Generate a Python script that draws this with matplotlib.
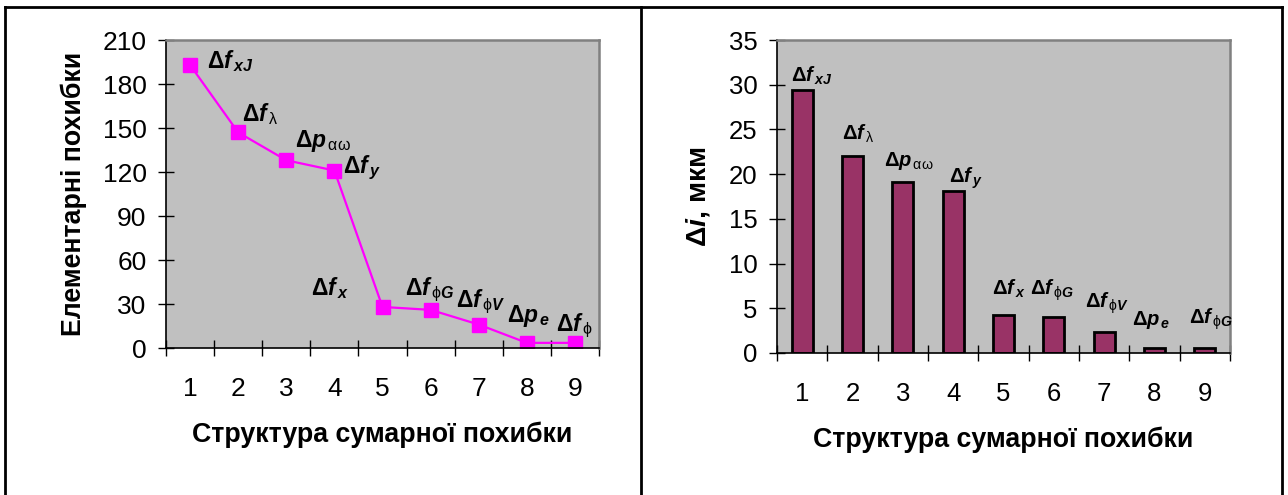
import matplotlib
matplotlib.use('Agg')
import matplotlib.pyplot as plt
from matplotlib.lines import Line2D
from matplotlib.ticker import FixedLocator

plt.rcParams['font.family'] = ['Liberation Sans', 'DejaVu Sans']
plt.rcParams['mathtext.fontset'] = 'custom'
plt.rcParams['mathtext.rm'] = 'Liberation Sans'
plt.rcParams['mathtext.it'] = 'Liberation Sans:italic'
plt.rcParams['mathtext.bf'] = 'Liberation Sans:bold'
plt.rcParams['mathtext.bfit'] = 'Liberation Sans:italic:bold'

# дані
categories = [1, 2, 3, 4, 5, 6, 7, 8, 9]
elem_errors = [193, 147, 128, 121, 28, 26, 16, 3.5, 3.5]
delta_i = [29.4, 22.0, 19.1, 18.15, 4.25, 4.05, 2.4, 0.6, 0.52]

D = r'\mathbf{\Delta}'
left_labels = [
    r'$' + D + r'\mathbfit{f}_{\,\mathbfit{xJ}}$',
    r'$' + D + r'\mathbfit{f}_{\,\mathrm{\lambda}}$',
    r'$' + D + r'\mathbfit{p}_{\,\mathrm{\alpha\omega}}$',
    r'$' + D + r'\mathbfit{f}_{\,\mathbfit{y}}$',
    r'$' + D + r'\mathbfit{f}_{\,\mathbfit{x}}$',
    r'$' + D + r'\mathbfit{f}_{\,\mathrm{\phi}\mathbfit{G}}$',
    r'$' + D + r'\mathbfit{f}_{\,\mathrm{\phi}\mathbfit{V}}$',
    r'$' + D + r'\mathbfit{p}_{\,\mathbfit{e}}$',
    r'$' + D + r'\mathbfit{f}_{\,\mathrm{\phi}}$',
]
left_lab_x = [1.35, 2.08, 3.18, 4.18, 3.51, 5.47, 6.52, 7.59, 8.61]
left_lab_y = [191, 155, 137, 119.5, 36, 36, 28, 18, 11.6]

right_labels = left_labels[:8] + [left_labels[5]]
right_lab_x = [0.77, 1.79, 2.63, 3.92, 4.78, 5.53, 6.61, 7.56, 8.69]
right_lab_y = [30.3, 23.8, 20.9, 19.0, 6.5, 6.5, 5.07, 3.13, 3.32]

xlabel = 'Структура сумарної похибки'

fig = plt.figure(figsize=(12.88, 4.95), dpi=100)
W, H = 1288, 495


def style_axes(ax, ymax, ystep, fs):
    ax.set_facecolor('#c0c0c0')
    ax.set_xlim(0.5, 9.5)
    ax.set_ylim(0, ymax)
    ax.set_yticks(range(0, ymax + 1, ystep))
    ax.xaxis.set_major_locator(FixedLocator(categories))
    ax.xaxis.set_minor_locator(FixedLocator([c + 0.5 for c in [0] + categories]))
    ax.tick_params(axis='x', which='major', length=0, pad=21, labelsize=fs)
    ax.tick_params(axis='x', which='minor', direction='inout', length=12, width=1)
    ax.tick_params(axis='y', direction='inout', length=12, width=1, pad=8, labelsize=fs)
    for s in ['top', 'right']:
        ax.spines[s].set_color('#808080')
        ax.spines[s].set_linewidth(1.8)
    for s in ['left', 'bottom']:
        ax.spines[s].set_color('black')
        ax.spines[s].set_linewidth(1.2)


# ліва діаграма
ax1 = fig.add_axes([166 / W, (H - 348) / H, 433 / W, 308 / H])
style_axes(ax1, 210, 30, 19)
ax1.plot(categories, elem_errors, color='#ff00ff', lw=1.6, marker='s', ms=10,
         mec='#ff00ff', mfc='#ff00ff')
for t, x, y in zip(left_labels, left_lab_x, left_lab_y):
    ax1.text(x, y, t, fontsize=16.5, va='baseline', ha='left')
ax1.set_xlabel(xlabel, fontsize=19.3, fontweight='bold', labelpad=15)
ax1.set_ylabel('Елементарні похибки', fontsize=19.3, fontweight='bold', labelpad=11)

# права діаграма
ax2 = fig.add_axes([777 / W, (H - 353) / H, 453 / W, 313 / H])
style_axes(ax2, 35, 5, 18.5)
ax2.bar(categories, delta_i, width=0.42, color='#993366', edgecolor='black', linewidth=2)
for t, x, y in zip(right_labels, right_lab_x, right_lab_y):
    ax2.text(x, y, t, fontsize=14.5, va='baseline', ha='left')
ax2.set_xlabel(xlabel, fontsize=19.3, fontweight='bold', labelpad=15)
ax2.set_ylabel(r'$\mathbf{\Delta}\mathbfit{i}$, мкм', fontsize=20.5, fontweight='bold', labelpad=12)

# рамка таблиці
lw = 2
for xs, ys in [([5 / W, 1282 / W], [1 - 7 / H, 1 - 7 / H]),
               ([5 / W, 5 / W], [0, 1 - 7 / H]),
               ([641 / W, 641 / W], [0, 1 - 7 / H]),
               ([1282 / W, 1282 / W], [0, 1 - 7 / H])]:
    fig.add_artist(Line2D(xs, ys, color='black', lw=lw))

fig.savefig('out.png', dpi=100)
